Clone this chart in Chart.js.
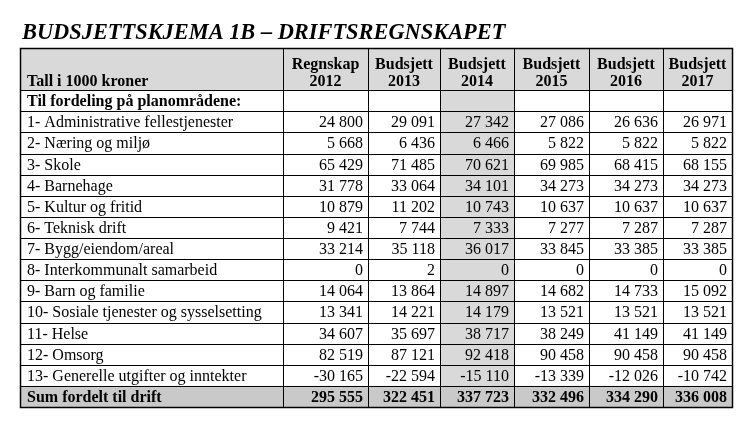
<!DOCTYPE html>
<html>
<head>
    <title>Budsjettskjema 1B - Driftsregnskapet</title>
    <script src="https://cdn.jsdelivr.net/npm/chart.js"></script>
    <style>
        body { margin: 0; background: #ffffff; }
        canvas { display: block; }
    </style>
</head>
<body>
    <canvas id="table" width="752" height="426"></canvas>
    <script>
        const title = 'BUDSJETTSKJEMA 1B \u2013 DRIFTSREGNSKAPET';
        const cornerLabel = 'Tall i 1000 kroner';
        const sectionLabel = 'Til fordeling på planområdene:';
        const sumLabel = 'Sum fordelt til drift';
        const colKinds = ['Regnskap', 'Budsjett', 'Budsjett', 'Budsjett', 'Budsjett', 'Budsjett'];
        const years = ['2012', '2013', '2014', '2015', '2016', '2017'];
        const categories = [
            '1- Administrative fellestjenester',
            '2- Næring og miljø',
            '3- Skole',
            '4- Barnehage',
            '5- Kultur og fritid',
            '6- Teknisk drift',
            '7- Bygg/eiendom/areal',
            '8- Interkommunalt samarbeid',
            '9- Barn og familie',
            '10- Sosiale tjenester og sysselsetting',
            '11- Helse',
            '12- Omsorg',
            '13- Generelle utgifter og inntekter'
        ];
        const v2012 = [24800, 5668, 65429, 31778, 10879, 9421, 33214, 0, 14064, 13341, 34607, 82519, -30165];
        const v2013 = [29091, 6436, 71485, 33064, 11202, 7744, 35118, 2, 13864, 14221, 35697, 87121, -22594];
        const v2014 = [27342, 6466, 70621, 34101, 10743, 7333, 36017, 0, 14897, 14179, 38717, 92418, -15110];
        const v2015 = [27086, 5822, 69985, 34273, 10637, 7277, 33845, 0, 14682, 13521, 38249, 90458, -13339];
        const v2016 = [26636, 5822, 68415, 34273, 10637, 7287, 33385, 0, 14733, 13521, 41149, 90458, -12026];
        const v2017 = [26971, 5822, 68155, 34273, 10637, 7287, 33385, 0, 15092, 13521, 41149, 90458, -10742];
        const totals = [295555, 322451, 337723, 332496, 334290, 336008];

        const series = [v2012, v2013, v2014, v2015, v2016, v2017];
        const highlightYear = '2014';

        // layout: column widths (x units) and row spans (y units)
        const colWidths = [263, 85, 72, 74, 75, 74, 69];
        const colEdges = [0];
        colWidths.forEach(w => colEdges.push(colEdges[colEdges.length - 1] + w));
        const headerRows = 2;
        const rowCount = headerRows + 1 + categories.length + 1; // header + section + rows + sum

        const serif = '"Liberation Serif", "Times New Roman", serif';

        function fmt(n) {
            const s = Math.abs(n).toString().replace(/\B(?=(\d{3})+(?!\d))/g, ' ');
            return (n < 0 ? '-' : '') + s;
        }

        const tablePlugin = {
            id: 'tablePlugin',
            afterDraw(chart) {
                const ctx = chart.ctx;
                const x = chart.scales.x;
                const y = chart.scales.y;
                const px = v => x.getPixelForValue(v);
                const py = v => y.getPixelForValue(v);
                const left = px(0), right = px(colEdges[colEdges.length - 1]);
                const top = py(0), bottom = py(rowCount);

                ctx.save();

                // title
                ctx.fillStyle = '#000';
                ctx.font = 'italic bold 22.4px ' + serif;
                ctx.textAlign = 'left';
                ctx.textBaseline = 'alphabetic';
                ctx.fillText(title, left + 2, 39);

                // shading
                ctx.fillStyle = '#d9d9d9';
                ctx.fillRect(left, top, right - left, py(headerRows) - top);
                const hi = years.indexOf(highlightYear) + 1;
                ctx.fillRect(px(colEdges[hi]), top, px(colEdges[hi + 1]) - px(colEdges[hi]), bottom - top);
                ctx.fillStyle = '#c9c9c9';
                ctx.fillRect(left, py(rowCount - 1), right - left, bottom - py(rowCount - 1));

                // header text
                ctx.fillStyle = '#000';
                ctx.font = 'bold 16px ' + serif;
                ctx.textAlign = 'left';
                ctx.fillText(cornerLabel, left + 7, top + 38);
                ctx.textAlign = 'center';
                for (let c = 0; c < years.length; c++) {
                    const cx = (px(colEdges[c + 1]) + px(colEdges[c + 2])) / 2;
                    ctx.fillText(colKinds[c], cx, top + 20.5);
                    ctx.fillText(years[c], cx, top + 37.5);
                }

                // section row
                ctx.textAlign = 'left';
                ctx.fillText(sectionLabel, left + 7, py(headerRows) + 16);

                // body rows
                ctx.font = '16px ' + serif;
                categories.forEach((cat, i) => {
                    const r = headerRows + 1 + i;
                    const base = py(r) + 16;
                    ctx.textAlign = 'left';
                    ctx.fillText(cat, left + 7, base);
                    ctx.textAlign = 'right';
                    series.forEach((vals, c) => {
                        ctx.fillText(fmt(vals[i]), px(colEdges[c + 2]) - 5, base);
                    });
                });

                // sum row
                ctx.font = 'bold 16px ' + serif;
                const sBase = py(rowCount - 1) + 16;
                ctx.textAlign = 'left';
                ctx.fillText(sumLabel, left + 7, sBase);
                ctx.textAlign = 'right';
                totals.forEach((t, c) => {
                    ctx.fillText(fmt(t), px(colEdges[c + 2]) - 5, sBase);
                });

                // grid lines
                const snap = v => Math.round(v) + 0.5;
                ctx.strokeStyle = '#000';
                ctx.lineWidth = 1;
                ctx.beginPath();
                for (let r = headerRows; r < rowCount; r++) {
                    ctx.moveTo(left, snap(py(r)));
                    ctx.lineTo(right, snap(py(r)));
                }
                for (let c = 1; c < colEdges.length - 1; c++) {
                    ctx.moveTo(snap(px(colEdges[c])), top);
                    ctx.lineTo(snap(px(colEdges[c])), bottom);
                }
                ctx.stroke();
                ctx.lineWidth = 1.5;
                ctx.strokeRect(snap(left), snap(top), Math.round(right - left), Math.round(bottom - top));
                ctx.restore();
            }
        };

        new Chart(document.getElementById('table').getContext('2d'), {
            type: 'scatter',
            data: { datasets: [] },
            options: {
                responsive: false,
                animation: false,
                layout: { padding: { left: 20, right: 20, top: 48, bottom: 19 } },
                scales: {
                    x: { type: 'linear', min: 0, max: colEdges[colEdges.length - 1], display: false },
                    y: { type: 'linear', min: 0, max: rowCount, reverse: true, display: false }
                },
                plugins: {
                    legend: { display: false },
                    tooltip: { enabled: false }
                }
            },
            plugins: [tablePlugin]
        });
    </script>
</body>
</html>
